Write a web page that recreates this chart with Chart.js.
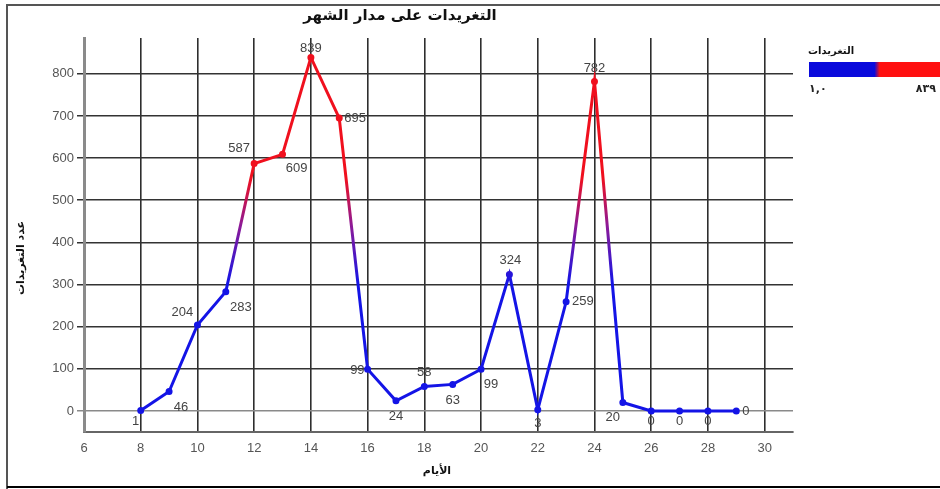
<!DOCTYPE html>
<html lang="ar">
<head>
<meta charset="utf-8">
<script src="https://cdn.jsdelivr.net/npm/chart.js@4.4.1/dist/chart.umd.min.js"></script>
<style>
  html, body { margin: 0; padding: 0; background: #ffffff; }
  #wrap { width: 940px; height: 489px; position: relative; }
  canvas { display: block; }
</style>
</head>
<body>
<div id="wrap"><canvas id="c" width="940" height="489"></canvas></div>
<script>
// Daily tweet counts over the month
const days   = [8, 9, 10, 11, 12, 13, 14, 15, 16, 17, 18, 19, 20, 21, 22, 23, 24, 25, 26, 27, 28, 29];
const tweets = [1, 46, 204, 283, 587, 609, 839, 695, 99, 24, 58, 63, 99, 324, 3, 259, 782, 20, 0, 0, 0, 0];

const xTicks = [6, 8, 10, 12, 14, 16, 18, 20, 22, 24, 26, 28, 30];
const yTicks = [0, 100, 200, 300, 400, 500, 600, 700, 800];

const chartTitle = 'التغريدات على مدار الشهر';
const xTitle = 'الأيام';
const yTitle = 'عدد التغريدات';
const legendTitle = 'التغريدات';
const legendMin = '١,٠';
const legendMax = '٨٣٩';

const BLUE = '#1414e6';
const RED = '#f0101e';
const ARABIC_FONT = '"DejaVu Sans", "Noto Sans", sans-serif';
const LATIN_FONT = '"Liberation Sans", Arial, sans-serif';

// where each value label sits relative to its point: [dx, dy, align]
const labelPlacement = [
  [-5, 11, 'center'], [12, 16, 'center'], [-15, -13, 'center'], [15, 16, 'center'],
  [-15, -15, 'center'], [14, 14, 'center'], [0, -9, 'center'], [5, 0, 'left'],
  [-3, 1, 'right'], [0, 16, 'center'], [0, -14, 'center'], [0, 16, 'center'],
  [10, 15, 'center'], [1, -14, 'center'], [0, 14, 'center'], [6, 0, 'left'],
  [0, -13, 'center'], [-10, 15, 'center'], [0, 10, 'center'], [0, 10, 'center'],
  [0, 10, 'center'], [6, 0, 'left']
];

const points = days.map((d, i) => ({ x: d, y: tweets[i] }));

// colour ramp from low (blue) to high (red) along the value axis
function valueGradient(chart) {
  const { ctx, scales, chartArea } = chart;
  if (!chartArea || !scales.y) return BLUE;
  const maxV = Math.max(...tweets);
  const y0 = scales.y.getPixelForValue(0);
  const y1 = scales.y.getPixelForValue(maxV);
  if (!isFinite(y0) || !isFinite(y1) || y0 === y1) return BLUE;
  const g = ctx.createLinearGradient(0, y0, 0, y1);
  g.addColorStop(0, BLUE);
  g.addColorStop(0.36, BLUE);
  g.addColorStop(0.52, '#8a1a9a');
  g.addColorStop(0.66, RED);
  g.addColorStop(1, RED);
  return g;
}

const decorations = {
  id: 'decorations',
  beforeDraw(chart) {
    const { ctx } = chart;
    ctx.save();
    ctx.fillStyle = '#ffffff';
    ctx.fillRect(0, 0, chart.width, chart.height);
    ctx.restore();
  },
  afterDatasetsDraw(chart) {
    const { ctx } = chart;
    const meta = chart.getDatasetMeta(0);
    ctx.save();
    ctx.font = '13px ' + LATIN_FONT;
    ctx.fillStyle = '#444444';
    ctx.textBaseline = 'middle';
    meta.data.forEach((el, i) => {
      const [dx, dy, align] = labelPlacement[i];
      ctx.textAlign = align;
      ctx.fillText(String(tweets[i]), el.x + dx, el.y + dy);
    });
    ctx.restore();
  },
  afterDraw(chart) {
    const { ctx } = chart;
    ctx.save();
    // outer frame
    ctx.strokeStyle = '#555555';
    ctx.lineWidth = 2;
    ctx.beginPath();
    ctx.moveTo(940, 5);
    ctx.lineTo(7, 5);
    ctx.lineTo(7, 489);
    ctx.stroke();
    ctx.strokeStyle = '#000000';
    ctx.beginPath();
    ctx.moveTo(7, 487);
    ctx.lineTo(940, 487);
    ctx.stroke();

    // chart title
    ctx.fillStyle = '#111111';
    ctx.textAlign = 'center';
    ctx.textBaseline = 'middle';
    ctx.font = 'bold 15px ' + ARABIC_FONT;
    ctx.fillText(chartTitle, 400, 16);

    // axis titles
    ctx.font = 'bold 11px ' + ARABIC_FONT;
    ctx.fillText(xTitle, 437, 471);
    ctx.save();
    ctx.translate(21, 258);
    ctx.rotate(-Math.PI / 2);
    ctx.fillText(yTitle, 0, 0);
    ctx.restore();

    // colour legend
    ctx.font = 'bold 10px ' + ARABIC_FONT;
    ctx.textAlign = 'left';
    ctx.fillText(legendTitle, 808, 51);
    const bx = 809, by = 62, bw = 131, bh = 15;
    const lg = ctx.createLinearGradient(bx, 0, bx + bw, 0);
    lg.addColorStop(0, '#0a0adc');
    lg.addColorStop(0.5, '#0a0adc');
    lg.addColorStop(0.54, '#ff1010');
    lg.addColorStop(1, '#ff1010');
    ctx.fillStyle = lg;
    ctx.fillRect(bx, by, bw, bh);
    ctx.fillStyle = '#222222';
    ctx.font = 'bold 11px ' + ARABIC_FONT;
    ctx.textAlign = 'left';
    ctx.fillText(legendMin, 809, 89);
    ctx.textAlign = 'right';
    ctx.fillText(legendMax, 936, 89);
    ctx.restore();
  }
};

new Chart(document.getElementById('c'), {
  type: 'line',
  data: {
    datasets: [{
      data: points,
      borderColor: (c) => valueGradient(c.chart),
      pointBackgroundColor: (c) => valueGradient(c.chart),
      pointBorderColor: (c) => valueGradient(c.chart),
      borderWidth: 3,
      pointRadius: 2,
      pointHoverRadius: 2,
      tension: 0,
      fill: false
    }]
  },
  options: {
    responsive: false,
    animation: false,
    events: [],
    layout: { padding: { left: 0, top: 38, right: 147, bottom: 0 } },
    plugins: {
      legend: { display: false },
      tooltip: { enabled: false },
      title: { display: false }
    },
    scales: {
      x: {
        type: 'linear',
        min: 6,
        max: 31,
        afterBuildTicks: (s) => { s.ticks = xTicks.map(v => ({ value: v })); },
        afterFit: (s) => { s.height = 57; },
        border: { display: true, color: '#666666', width: 2 },
        grid: {
          color: (c) => c.tick && c.tick.value === 6 ? 'rgba(0,0,0,0)' : '#2e2e2e',
          lineWidth: 1.6,
          drawTicks: false
        },
        ticks: {
          color: '#555555',
          font: { family: LATIN_FONT, size: 13 },
          padding: 9,
          maxRotation: 0,
          autoSkip: false
        }
      },
      y: {
        type: 'linear',
        min: -50,
        max: 885,
        afterBuildTicks: (s) => { s.ticks = yTicks.map(v => ({ value: v })); },
        afterFit: (s) => { s.width = 84; },
        border: { display: true, color: '#8a8a8a', width: 3 },
        grid: {
          color: (c) => c.tick && c.tick.value === 0 ? '#8a8a8a' : '#333333',
          lineWidth: 1.5,
          tickLength: 7
        },
        ticks: {
          color: '#555555',
          font: { family: LATIN_FONT, size: 13 },
          padding: 3
        }
      }
    }
  },
  plugins: [decorations]
});
</script>
</body>
</html>
